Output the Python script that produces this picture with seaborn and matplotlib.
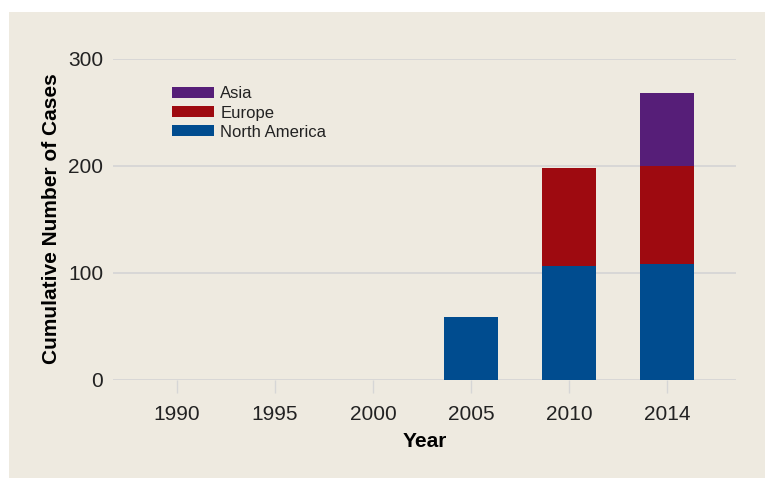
import pandas as pd
import matplotlib.pyplot as plt
import seaborn as sns
from matplotlib.patches import Patch, Rectangle

# Data
years = ["1990", "1995", "2000", "2005", "2010", "2014"]
north_america = [0, 0, 0, 58, 106, 108]
europe = [0, 0, 0, 0, 92, 92]
asia = [0, 0, 0, 0, 0, 68]

region_colors = {
    "Asia": "#561E78",
    "Europe": "#9E0A10",
    "North America": "#004C8F",
}
bg = "#EEEAE0"
grid_col = "#D6D6D6"

df = pd.DataFrame({
    "Year": years,
    "North America": north_america,
    "Europe": europe,
    "Asia": asia,
})
# cumulative heights for stacking
df["NA_top"] = df["North America"]
df["EU_top"] = df["NA_top"] + df["Europe"]
df["AS_top"] = df["EU_top"] + df["Asia"]

sns.set_style("white")
plt.rcParams["font.family"] = ["Liberation Sans", "DejaVu Sans"]

fig = plt.figure(figsize=(7.68, 4.79), dpi=100, facecolor="white")
# beige panel behind everything
fig.patches.append(Rectangle((9 / 768, 1 / 479), (765 - 9) / 768, (478 - 12) / 479,
                             transform=fig.transFigure, facecolor=bg, edgecolor="none", zorder=-10))
ax = fig.add_axes([113 / 768, 1 - 379.5 / 479, (736 - 113) / 768, (379.5 - 58.5) / 479])
ax.set_facecolor(bg)

# draw tallest layer first so the lower layers sit on top
for col, name in [("AS_top", "Asia"), ("EU_top", "Europe"), ("NA_top", "North America")]:
    sns.barplot(data=df, x="Year", y=col, order=years, color=region_colors[name],
                saturation=1, width=0.56, linewidth=0, edgecolor="none", ax=ax, zorder=3)

ax.set_xlim(-0.653, 5.704)
ax.set_ylim(0, 300)
ax.set_yticks([0, 100, 200, 300])
ax.grid(axis="y", color=grid_col, linewidth=1.3, zorder=0)
ax.set_axisbelow(True)
for s in ax.spines.values():
    s.set_visible(False)

ax.tick_params(axis="y", left=False, length=0, pad=7, labelsize=15, labelcolor="#222222")
ax.tick_params(axis="x", bottom=True, length=9, width=1, color=grid_col, pad=9,
               labelsize=15, labelcolor="#222222")

ax.set_xlabel("Year", fontsize=15, fontweight="bold", color="black", labelpad=6)
ax.set_ylabel("Cumulative Number of Cases", fontsize=15, fontweight="bold", color="black", labelpad=5)

handles = [Patch(facecolor=region_colors[n], edgecolor="none") for n in ["Asia", "Europe", "North America"]]
leg = ax.legend(handles, ["Asia", "Europe", "North America"], loc="upper left",
                bbox_to_anchor=(0.0947, 0.913), frameon=False, borderpad=0, borderaxespad=0,
                handlelength=2.55, handleheight=0.65, handletextpad=0.35, labelspacing=0.25,
                prop={"size": 12})
for t in leg.get_texts():
    t.set_color("#222222")

plt.savefig("out.png", dpi=100, facecolor="white")
